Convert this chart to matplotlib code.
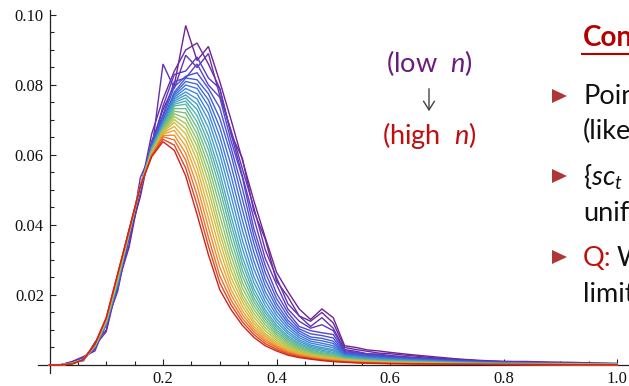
import matplotlib
matplotlib.use("Agg")
import matplotlib.pyplot as plt
from matplotlib.colors import LinearSegmentedColormap
from matplotlib.patches import Polygon, FancyArrowPatch
from matplotlib.lines import Line2D

plt.rcParams['mathtext.fontset'] = 'custom'
plt.rcParams['mathtext.rm'] = 'Lato'
plt.rcParams['mathtext.it'] = 'Lato:italic'

# ---------------- data (density values in thousandths) ----------------
x_grid = [0.00, 0.02, 0.04, 0.06, 0.08, 0.10, 0.12, 0.14, 0.16, 0.18,
          0.20, 0.22, 0.24, 0.26, 0.28, 0.30, 0.32, 0.34, 0.36, 0.38,
          0.40, 0.42, 0.44, 0.46, 0.48, 0.50, 0.52, 0.54, 0.56, 0.58, 0.60,
          0.64, 0.68, 0.72, 0.76, 0.80, 0.84, 0.88, 0.92, 0.96, 1.00]

# lowest n (purple) ... highest n (red)
series_n01 = [0, 0, 1.0, 2.4, 4.0, 12.0, 21.0, 36.5, 48.0, 63.5,
              73.0, 80.0, 97.0, 87.0, 91.0, 81.0, 70.0, 58.5, 47.0, 36.5,
              26.5, 21.0, 16.0, 13.0, 16.0, 13.5, 5.5, 5.0, 4.3, 4.0, 3.6,
              2.9, 2.3, 1.7, 1.3, 1.0, 1.0, 0.8, 0.75, 0.55, 0.45]
series_n02 = [0, 0, 0.7, 2.0, 5.5, 9.5, 23.0, 33.5, 50.0, 66.0,
              76.0, 84.0, 90.0, 92.0, 86.0, 79.0, 66.0, 59.0, 44.0, 36.0,
              24.0, 19.5, 14.0, 12.5, 15.0, 12.0, 5.0, 4.4, 3.9, 3.4, 3.2,
              2.6, 2.0, 1.6, 1.15, 1.0, 0.85, 0.75, 0.6, 0.5, 0.38]
series_n03 = [0, 0.1, 0.9, 1.2, 6.5, 10.0, 24.0, 34.0, 53.5, 61.0,
              86.0, 79.0, 88.5, 85.0, 89.0, 77.0, 67.0, 56.0, 45.0, 33.0,
              25.0, 17.5, 14.0, 11.0, 13.5, 10.5, 4.4, 3.9, 3.2, 3.1, 2.7,
              2.2, 1.8, 1.4, 1.1, 0.9, 0.78, 0.65, 0.55, 0.42, 0.33]
series_n04 = [0, 0, 0.6, 1.8, 5.0, 11.5, 22.0, 36.0, 50.5, 62.0,
              74.0, 83.0, 84.0, 88.0, 82.0, 79.0, 66.0, 54.0, 42.0, 30.5,
              23.0, 16.0, 12.5, 10.5, 11.5, 9.8, 4.1, 3.6, 3.1, 2.9, 2.5,
              2.05, 1.7, 1.3, 1.0, 0.84, 0.72, 0.6, 0.5, 0.38, 0.3]
series_n05 = [0, 0, 0.4, 2.2, 4.5, 12.5, 21.5, 38.5, 49.0, 64.0,
              71.5, 81.0, 82.0, 86.0, 80.0, 76.5, 64.0, 53.5, 39.0, 28.5,
              20.5, 15.0, 11.0, 9.8, 9.2, 8.7, 3.8, 3.4, 2.9, 2.7, 2.35,
              1.93, 1.57, 1.22, 0.96, 0.78, 0.66, 0.56, 0.47, 0.35, 0.28]
series_n06 = [0, 0, 0.5, 1.9, 4.8, 12.0, 22.3, 37.8, 50.0, 63.2,
              70.8, 79.5, 82.5, 83.5, 79.0, 73.5, 62.0, 50.4, 37.0, 26.5,
              19.0, 13.9, 10.3, 8.9, 8.4, 7.7, 3.55, 3.15, 2.7, 2.5, 2.18,
              1.78, 1.45, 1.13, 0.89, 0.72, 0.61, 0.52, 0.43, 0.33, 0.26]
series_n07 = [0, 0, 0.6, 1.65, 5.1, 11.6, 23.0, 37.0, 51.0, 62.5,
              70.0, 78.0, 82.0, 81.5, 77.5, 70.5, 60.0, 47.3, 34.8, 24.5,
              17.6, 12.8, 9.7, 8.0, 7.6, 6.8, 3.3, 2.9, 2.5, 2.25, 2.0,
              1.64, 1.34, 1.04, 0.82, 0.66, 0.56, 0.48, 0.40, 0.30, 0.24]
series_n08 = [0, 0, 0.58, 1.64, 5.15, 11.7, 23.15, 37.05, 51.0, 62.35,
              69.75, 77.5, 81.0, 80.25, 75.75, 67.9, 57.0, 44.3, 32.25, 22.75,
              16.45, 12.0, 9.05, 7.4, 6.9, 6.15, 3.1, 2.72, 2.35, 2.1, 1.88,
              1.54, 1.26, 0.98, 0.77, 0.62, 0.52, 0.45, 0.38, 0.28, 0.22]
series_n09 = [0, 0, 0.57, 1.64, 5.2, 11.8, 23.3, 37.1, 51.0, 62.2,
              69.5, 77.0, 80.0, 79.0, 74.0, 65.3, 54.0, 41.3, 29.7, 21.0,
              15.3, 11.2, 8.4, 6.8, 6.2, 5.5, 2.9, 2.55, 2.2, 1.95, 1.75,
              1.43, 1.17, 0.91, 0.72, 0.58, 0.49, 0.42, 0.35, 0.26, 0.21]
series_n10 = [0, 0, 0.56, 1.63, 5.25, 11.9, 23.45, 37.2, 51.0, 62.05,
              69.25, 76.5, 79.0, 77.5, 72.0, 62.8, 51.15, 38.45, 27.5, 19.6,
              14.25, 10.4, 7.8, 6.25, 5.6, 4.95, 2.75, 2.4, 2.08, 1.82, 1.62,
              1.33, 1.08, 0.84, 0.67, 0.54, 0.46, 0.39, 0.32, 0.24, 0.2]
series_n11 = [0, 0, 0.54, 1.62, 5.3, 12.0, 23.6, 37.3, 51.0, 61.9,
              69.0, 76.0, 78.0, 76.0, 70.0, 60.3, 48.3, 35.6, 25.3, 18.2,
              13.2, 9.6, 7.2, 5.7, 5.0, 4.4, 2.6, 2.25, 1.95, 1.7, 1.5,
              1.23, 1.0, 0.78, 0.62, 0.50, 0.42, 0.36, 0.30, 0.23, 0.18]
series_n12 = [0, 0, 0.52, 1.61, 5.35, 12.1, 23.75, 37.4, 51.0, 61.75,
              68.75, 75.5, 77.15, 74.5, 67.75, 57.65, 45.4, 33.2, 23.55, 17.0,
              12.3, 8.95, 6.7, 5.3, 4.6, 4.0, 2.42, 2.1, 1.8, 1.58, 1.39,
              1.14, 0.93, 0.72, 0.57, 0.46, 0.39, 0.33, 0.28, 0.21, 0.16]
series_n13 = [0, 0, 0.5, 1.6, 5.4, 12.2, 23.9, 37.5, 51.0, 61.6,
              68.5, 75.0, 76.3, 73.0, 65.5, 55.0, 42.5, 30.8, 21.8, 15.8,
              11.4, 8.3, 6.2, 4.9, 4.2, 3.6, 2.25, 1.95, 1.65, 1.45, 1.28,
              1.05, 0.86, 0.67, 0.52, 0.42, 0.36, 0.31, 0.26, 0.19, 0.15]
series_n14 = [0, 0, 0.49, 1.6, 5.45, 12.3, 24.05, 37.55, 51.0, 61.45,
              68.25, 74.5, 75.4, 71.25, 63.5, 52.75, 40.25, 28.9, 20.5, 14.9,
              10.7, 7.8, 5.8, 4.55, 3.85, 3.3, 2.12, 1.82, 1.55, 1.35, 1.19,
              0.98, 0.8, 0.62, 0.48, 0.39, 0.33, 0.28, 0.24, 0.18, 0.14]
series_n15 = [0, 0, 0.48, 1.59, 5.5, 12.4, 24.2, 37.6, 51.0, 61.3,
              68.0, 74.0, 74.5, 69.5, 61.5, 50.5, 38.0, 27.0, 19.2, 14.0,
              10.0, 7.3, 5.4, 4.2, 3.5, 3.0, 2.0, 1.7, 1.45, 1.25, 1.1,
              0.90, 0.74, 0.57, 0.45, 0.36, 0.31, 0.26, 0.22, 0.17, 0.13]
series_n16 = [0, 0, 0.46, 1.58, 5.5, 12.45, 24.35, 37.65, 51.0, 61.15,
              67.75, 73.25, 73.25, 67.75, 59.25, 48.0, 35.65, 25.25, 18.1, 13.15,
              9.4, 6.85, 5.05, 3.9, 3.22, 2.75, 1.88, 1.59, 1.35, 1.16, 1.02,
              0.84, 0.69, 0.53, 0.42, 0.34, 0.29, 0.24, 0.2, 0.16, 0.12]
series_n17 = [0, 0, 0.45, 1.58, 5.5, 12.5, 24.5, 37.7, 51.0, 61.0,
              67.5, 72.5, 72.0, 66.0, 57.0, 45.5, 33.3, 23.5, 17.0, 12.3,
              8.8, 6.4, 4.7, 3.6, 2.95, 2.5, 1.75, 1.48, 1.25, 1.07, 0.95,
              0.78, 0.64, 0.49, 0.39, 0.31, 0.27, 0.23, 0.19, 0.14, 0.11]
series_n18 = [0, 0, 0.44, 1.57, 5.55, 12.6, 24.65, 37.8, 51.0, 60.85,
              67.25, 71.75, 70.5, 64.25, 54.75, 42.75, 31.15, 21.9, 15.9, 11.45,
              8.2, 6.0, 4.4, 3.38, 2.75, 2.3, 1.65, 1.39, 1.18, 1.0, 0.88,
              0.72, 0.6, 0.46, 0.36, 0.29, 0.25, 0.22, 0.18, 0.13, 0.1]
series_n19 = [0, 0, 0.42, 1.56, 5.6, 12.7, 24.8, 37.9, 51.0, 60.7,
              67.0, 71.0, 69.0, 62.5, 52.5, 40.0, 29.0, 20.3, 14.8, 10.6,
              7.6, 5.6, 4.1, 3.15, 2.55, 2.1, 1.55, 1.3, 1.1, 0.93, 0.82,
              0.67, 0.55, 0.43, 0.34, 0.27, 0.23, 0.20, 0.16, 0.12, 0.10]
series_n20 = [0, 0, 0.41, 1.56, 5.65, 12.8, 24.9, 37.95, 51.0, 60.6,
              66.75, 70.15, 67.5, 60.5, 50.0, 37.75, 27.0, 19.15, 13.75, 9.8,
              7.05, 5.2, 3.82, 2.95, 2.38, 1.92, 1.45, 1.21, 1.02, 0.86, 0.76,
              0.62, 0.51, 0.4, 0.32, 0.25, 0.22, 0.18, 0.15, 0.11, 0.09]
series_n21 = [0, 0, 0.4, 1.55, 5.7, 12.9, 25.0, 38.0, 51.0, 60.5,
              66.5, 69.3, 66.0, 58.5, 47.5, 35.5, 25.0, 18.0, 12.7, 9.0,
              6.5, 4.8, 3.55, 2.75, 2.2, 1.75, 1.35, 1.12, 0.95, 0.8, 0.70,
              0.57, 0.47, 0.36, 0.29, 0.23, 0.20, 0.17, 0.14, 0.10, 0.08]
series_n22 = [0, 0, 0.38, 1.54, 5.75, 13.0, 25.2, 38.1, 51.0, 60.3,
              66.25, 68.15, 64.25, 56.25, 44.75, 33.0, 23.25, 16.75, 11.85, 8.45,
              6.05, 4.45, 3.28, 2.55, 2.02, 1.6, 1.25, 1.04, 0.88, 0.74, 0.64,
              0.52, 0.43, 0.33, 0.26, 0.21, 0.18, 0.16, 0.13, 0.1, 0.08]
series_n23 = [0, 0, 0.36, 1.53, 5.8, 13.1, 25.4, 38.2, 51.0, 60.1,
              66.0, 67.0, 62.5, 54.0, 42.0, 30.5, 21.5, 15.5, 11.0, 7.9,
              5.6, 4.1, 3.0, 2.35, 1.85, 1.45, 1.15, 0.95, 0.8, 0.67, 0.58,
              0.48, 0.39, 0.30, 0.24, 0.19, 0.16, 0.14, 0.12, 0.09, 0.07]
series_n24 = [0, 0, 0.34, 1.52, 5.85, 13.2, 25.55, 38.25, 51.0, 59.95,
              65.6, 65.65, 60.5, 51.25, 39.25, 28.0, 20.0, 14.4, 10.25, 7.3,
              5.25, 3.8, 2.8, 2.18, 1.7, 1.32, 1.05, 0.86, 0.72, 0.6, 0.52,
              0.43, 0.35, 0.27, 0.22, 0.17, 0.15, 0.12, 0.1, 0.08, 0.06]
series_n25 = [0, 0, 0.33, 1.52, 5.9, 13.3, 25.7, 38.3, 51.0, 59.8,
              65.2, 64.3, 58.5, 48.5, 36.5, 25.5, 18.5, 13.3, 9.5, 6.7,
              4.9, 3.5, 2.6, 2.0, 1.55, 1.2, 0.95, 0.77, 0.64, 0.54, 0.46,
              0.38, 0.31, 0.24, 0.19, 0.15, 0.13, 0.11, 0.09, 0.07, 0.055]
series_n26 = [0, 0, 0.32, 1.51, 5.95, 13.4, 25.85, 38.4, 51.0, 59.65,
              64.5, 62.8, 56.25, 45.75, 34.0, 23.5, 17.15, 12.3, 8.7, 6.1,
              4.45, 3.15, 2.35, 1.82, 1.4, 1.08, 0.85, 0.68, 0.57, 0.48, 0.41,
              0.34, 0.28, 0.22, 0.18, 0.14, 0.12, 0.1, 0.08, 0.06, 0.05]
series_n27 = [0, 0, 0.3, 1.5, 6.0, 13.5, 26.0, 38.5, 51.0, 59.5,
              63.8, 61.3, 54.0, 43.0, 31.5, 21.5, 15.8, 11.3, 7.9, 5.5,
              4.0, 2.8, 2.1, 1.65, 1.25, 0.95, 0.75, 0.6, 0.5, 0.42, 0.36,
              0.30, 0.25, 0.20, 0.16, 0.13, 0.11, 0.09, 0.07, 0.05, 0.04]

all_series = [series_n01, series_n02, series_n03, series_n04, series_n05,
              series_n06, series_n07, series_n08, series_n09, series_n10,
              series_n11, series_n12, series_n13, series_n14, series_n15,
              series_n16, series_n17, series_n18, series_n19, series_n20,
              series_n21, series_n22, series_n23, series_n24, series_n25,
              series_n26, series_n27]

x_tick_vals = [0.2, 0.4, 0.6, 0.8, 1.0]
x_tick_labels = ['0.2', '0.4', '0.6', '0.8', '1.0']
y_tick_vals = [0.02, 0.04, 0.06, 0.08, 0.10]
y_tick_labels = ['0.02', '0.04', '0.06', '0.08', '0.10']

# ---------------- figure ----------------
W, H = 629, 386
fig = plt.figure(figsize=(W / 100, H / 100), dpi=100)
fig.patch.set_facecolor('white')

def fx(px):
    return px / W

def fy(py):
    return 1 - py / H

ax = fig.add_axes([38.15 / W, (H - 373) / H, 590.2 / W, 362.9 / H])
ax.set_xlim(-0.02, 1.02)
ax.set_ylim(-0.0023, 0.1014)

rainbow = LinearSegmentedColormap.from_list('mma_rainbow', [
    (0.00, '#70238f'), (0.12, '#5a3bc4'), (0.25, '#3f63db'),
    (0.38, '#3f91d6'), (0.50, '#4fb0b0'), (0.60, '#74bf7e'),
    (0.70, '#a8c555'), (0.78, '#d6bd3e'), (0.86, '#eea032'),
    (0.93, '#ec6a28'), (1.00, '#d0231c')])

n = len(all_series)
for i, s in enumerate(all_series):
    ax.plot(x_grid, [v / 1000 for v in s], color=rainbow(i / (n - 1)),
            lw=1.0, solid_joinstyle='miter', zorder=2 + i * 0.01)

for side in ['top', 'right']:
    ax.spines[side].set_visible(False)
ax.spines['left'].set_position(('data', 0))
ax.spines['bottom'].set_position(('data', 0))
for side in ['left', 'bottom']:
    ax.spines[side].set_color('#222222')
    ax.spines[side].set_linewidth(0.9)
    ax.spines[side].set_zorder(1)

ax.set_xticks(x_tick_vals)
ax.set_xticklabels(x_tick_labels)
ax.set_xticks([k * 0.05 for k in range(1, 21) if k % 4 != 0], minor=True)
ax.set_yticks(y_tick_vals)
ax.set_yticklabels(y_tick_labels)
ax.set_yticks([k * 0.005 for k in range(1, 21) if k % 4 != 0], minor=True)

ax.tick_params(which='both', direction='in', color='#222222', width=0.8,
               labelsize=12, labelfontfamily='Liberation Serif',
               labelcolor='#111111')
ax.tick_params(which='major', length=4.5)
ax.tick_params(which='minor', length=3)
ax.tick_params(axis='x', which='major', pad=4)
ax.tick_params(axis='y', which='major', pad=4)

# ---------------- slide text ----------------
purple_txt = '#6a1b7e'
red_txt = '#c00d0d'
fsz = 19.5
fam = 'Lato'

fig.text(fx(429), fy(72), r'(low  $n$)', color=purple_txt, fontsize=fsz,
         family=fam, ha='center', va='baseline')
fig.text(fx(429), fy(144), r'(high  $n$)', color=red_txt, fontsize=fsz,
         family=fam, ha='center', va='baseline')
fig.add_artist(FancyArrowPatch((fx(429), fy(86)), (fx(429), fy(114)),
                               transform=fig.transFigure,
                               arrowstyle='->,head_length=0.35,head_width=0.22',
                               mutation_scale=18, color='#444444', lw=1.0))

title_red = '#b50000'
fig.text(fx(583), fy(46), 'Con', color=title_red, fontsize=20,
         weight='bold', family=fam, ha='left', va='baseline')
fig.add_artist(Line2D([fx(582), fx(640)], [fy(54), fy(54)],
                      transform=fig.transFigure, color=title_red, lw=1.5))

bullet_col = '#b03535'
for cy in [96, 176, 257]:
    fig.add_artist(Polygon([[fx(552), fy(cy - 7)], [fx(552), fy(cy + 7)],
                            [fx(567), fy(cy)]], closed=True,
                           transform=fig.transFigure, facecolor=bullet_col,
                           edgecolor='none'))

body_col = '#111111'
fig.text(fx(583), fy(104), 'Poin', color=body_col, fontsize=fsz,
         family=fam, va='baseline')
fig.text(fx(583), fy(139), '(like', color=body_col, fontsize=fsz,
         family=fam, va='baseline')
fig.text(fx(583), fy(186), r'$\{sc_t$', color=body_col, fontsize=fsz,
         family=fam, va='baseline')
fig.text(fx(583), fy(221), 'unif', color=body_col, fontsize=fsz,
         family=fam, va='baseline')
fig.text(fx(583), fy(266), 'Q:', color=red_txt, fontsize=fsz,
         family=fam, va='baseline')
fig.text(fx(617), fy(266), 'W', color=body_col, fontsize=fsz,
         family=fam, va='baseline')
fig.text(fx(583), fy(302), 'limit', color=body_col, fontsize=fsz,
         family=fam, va='baseline')

fig.savefig('out.png', dpi=100, facecolor='white')
